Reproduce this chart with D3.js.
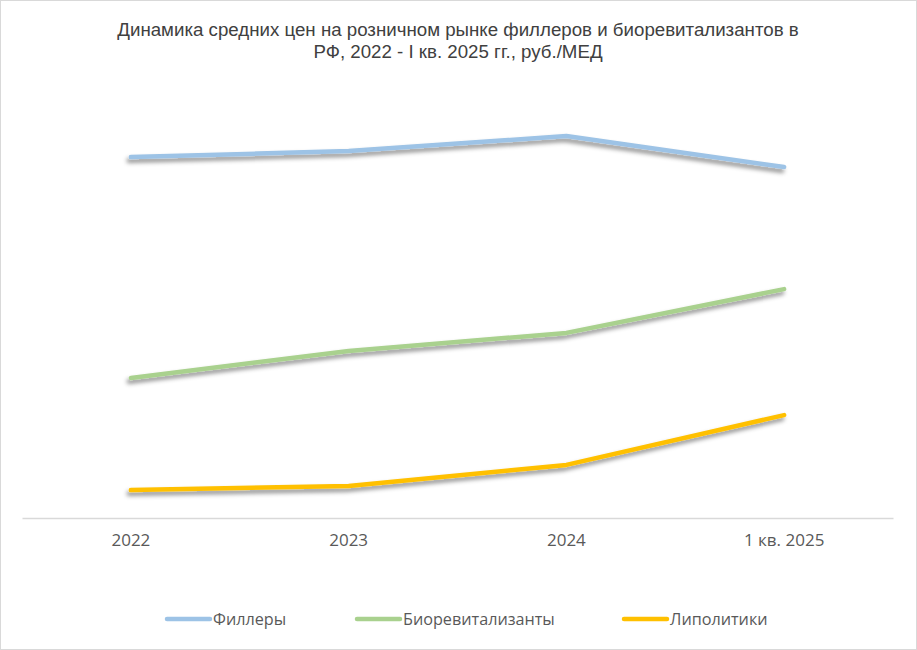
<!DOCTYPE html>
<html><head><meta charset="utf-8">
<script src="https://cdn.jsdelivr.net/npm/d3@7"></script>
<style>body{margin:0;background:#fff}svg{display:block}</style>
</head><body>
<script>
const categories = ["2022", "2023", "2024", "1 кв. 2025"];
const fillers = [12030, 12230, 12730, 11700];
const biorevitalizants = [4670, 5570, 6170, 7630];
const lipolytics = [930, 1070, 1770, 3430];
const seriesNames = ["Филлеры", "Биоревитализанты", "Липолитики"];
const seriesColors = ["#9dc3e6", "#a9d18e", "#ffc000"];
const titleLines = ["Динамика средних цен на розничном рынке филлеров и биоревитализантов в", "РФ, 2022 - I кв. 2025 гг., руб./МЕД"];

const W = 917, H = 650;
const svg = d3.select("body").append("svg").attr("width", W).attr("height", H);
svg.append("rect").attr("x",0.5).attr("y",0.5).attr("width",W-1).attr("height",H-1)
  .attr("fill","#fff").attr("stroke","#d9d9d9");

const defs = svg.append("defs");
const f = defs.append("filter").attr("id","sh").attr("x","-10%").attr("y","-50%").attr("width","120%").attr("height","200%");
f.append("feDropShadow").attr("dx",-2).attr("dy",3.5).attr("stdDeviation",2)
  .attr("flood-color","#000").attr("flood-opacity",0.45);

svg.append("g").selectAll("text").data(titleLines).join("text")
  .attr("x", 458).attr("y",(d,i)=>36+i*22).attr("text-anchor","middle")
  .attr("font-family","Liberation Sans, Arial, sans-serif").attr("font-size",18.7)
  .attr("fill","#404040").text(d=>d);

const x = d3.scaleBand().domain(categories).range([22, 893]);
const y = d3.scaleLinear().domain([0, 14000]).range([518, 98]);

const xAxis = svg.append("g").attr("transform","translate(0,518)")
  .call(d3.axisBottom(x).tickSize(0).tickPadding(16));
xAxis.select(".domain").attr("stroke","#d9d9d9").attr("stroke-width",1.5);
xAxis.selectAll("text").attr("font-family","Open Sans, sans-serif").attr("font-size",17)
  .attr("fill","#595959");

const data = [fillers, biorevitalizants, lipolytics];
const line = d3.line().x((d,i)=>x(categories[i])+x.bandwidth()/2).y(d=>y(d));
svg.append("g").selectAll("path").data(data).join("path")
  .attr("d", line).attr("fill","none").attr("stroke",(d,i)=>seriesColors[i])
  .attr("stroke-width",4.5).attr("stroke-linecap","round").attr("stroke-linejoin","round")
  .attr("filter","url(#sh)");

const legX = [167, 357, 624];
const lg = svg.append("g").selectAll("g").data(seriesNames).join("g")
  .attr("transform",(d,i)=>`translate(${legX[i]},619)`);
lg.append("line").attr("x1",0).attr("x2",43).attr("stroke",(d,i)=>seriesColors[i])
  .attr("stroke-width",4.5).attr("stroke-linecap","round");
lg.append("text").attr("x",46).attr("dy","0.35em").attr("font-family","Open Sans, sans-serif")
  .attr("font-size",16.2).attr("fill","#595959").text(d=>d);
</script>
</body></html>
